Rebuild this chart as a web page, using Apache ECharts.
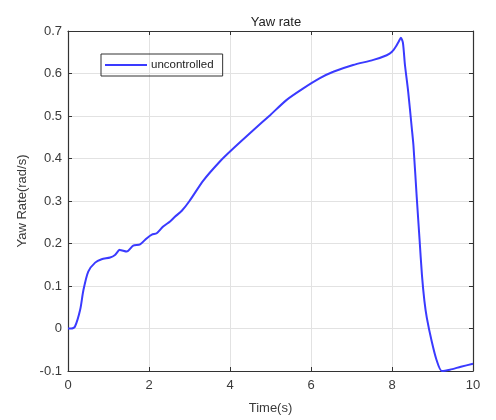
<!DOCTYPE html>
<html><head><meta charset="utf-8">
<script src="https://cdn.jsdelivr.net/npm/echarts@6/dist/echarts.min.js"></script>
<style>html,body{margin:0;padding:0;background:#fff}#c{width:496px;height:420px}</style>
</head><body><div id="c"></div>
<script>
const title = "Yaw rate";
const seriesName = "uncontrolled";
const xName = "Time(s)";
const yName = "Yaw Rate(rad/s)";
const time = [0, 0.08, 0.17, 0.3, 0.38, 0.5, 0.67, 0.83, 1.04, 1.16, 1.28, 1.45, 1.61, 1.78, 1.94, 2.07, 2.19, 2.35, 2.52, 2.64, 2.81, 3.0, 3.34, 3.75, 4.04, 4.58, 4.99, 5.4, 5.81, 6.22, 6.55, 7.04, 7.54, 7.87, 8.0, 8.1, 8.17, 8.22, 8.27, 8.32, 8.40, 8.49, 8.53, 8.61, 8.68, 8.74, 8.80, 8.86, 8.98, 9.10, 9.23, 9.43, 9.70, 10];
const yawRate = [0, 0.0, 0.004, 0.044, 0.09, 0.134, 0.155, 0.163, 0.167, 0.173, 0.185, 0.181, 0.195, 0.198, 0.212, 0.221, 0.224, 0.24, 0.252, 0.263, 0.277, 0.300, 0.348, 0.393, 0.42, 0.467, 0.502, 0.538, 0.565, 0.589, 0.604, 0.62, 0.632, 0.643, 0.651, 0.664, 0.676, 0.684, 0.672, 0.62, 0.557, 0.47, 0.43, 0.31, 0.21, 0.125, 0.065, 0.025, -0.03, -0.074, -0.1, -0.097, -0.09, -0.083];

const chart = echarts.init(document.getElementById('c'));
const font = 'Liberation Sans, Arial, sans-serif';
const txt = '#3a3a3a';
const frameAxis = {
  axisLine: {show: true, onZero: false, lineStyle: {color: '#333', width: 1.2}},
  axisTick: {show: true, inside: true, length: 4, lineStyle: {color: '#333'}},
  axisLabel: {show: false}, splitLine: {show: false}
};
chart.setOption({
  animation: false,
  title: {text: title, left: 271, top: 11, textAlign: 'center',
    textStyle: {fontFamily: font, fontSize: 13, fontWeight: 'normal', color: '#222'}},
  legend: {data: [seriesName], left: 101, top: 54, orient: 'vertical',
    borderColor: '#333', borderWidth: 1, padding: [5, 9, 5, 4], itemWidth: 42, itemHeight: 2, itemGap: 4,
    icon: 'rect',
    textStyle: {fontFamily: font, fontSize: 11.5, color: '#222', padding: [0, 0, 0, -1]}},
  grid: {left: 68, right: 23, top: 31, bottom: 49, containLabel: false},
  xAxis: [
    {type: 'value', min: 0, max: 10, interval: 2, name: xName,
      nameLocation: 'middle', nameGap: 31,
      nameTextStyle: {fontFamily: font, fontSize: 13, color: txt},
      axisLine: {show: true, onZero: false, lineStyle: {color: '#333', width: 1.2}},
      axisTick: {show: true, inside: true, length: 4, lineStyle: {color: '#333'}},
      splitLine: {show: true, lineStyle: {color: '#e2e2e2', width: 1}},
      axisLabel: {color: txt, fontFamily: font, fontSize: 13, margin: 8}},
    Object.assign({type: 'value', min: 0, max: 10, interval: 2, position: 'top'}, frameAxis)
  ],
  yAxis: [
    {type: 'value', min: -0.1, max: 0.7, interval: 0.1, name: yName,
      nameLocation: 'middle', nameGap: 29,
      nameTextStyle: {fontFamily: font, fontSize: 13, color: txt},
      axisLine: {show: true, onZero: false, lineStyle: {color: '#333', width: 1.2}},
      axisTick: {show: true, inside: true, length: 4, lineStyle: {color: '#333'}},
      splitLine: {show: true, lineStyle: {color: '#e2e2e2', width: 1}},
      axisLabel: {color: txt, fontFamily: font, fontSize: 13, margin: 6,
        formatter: v => String(Math.round(v * 10) / 10)}},
    Object.assign({type: 'value', min: -0.1, max: 0.7, interval: 0.1, position: 'right'}, frameAxis)
  ],
  series: [{
    name: seriesName, type: 'line', xAxisIndex: 0, yAxisIndex: 0,
    data: time.map((t, i) => [t, yawRate[i]]),
    showSymbol: false, smooth: 0.25,
    lineStyle: {color: '#3a3aff', width: 2}, itemStyle: {color: '#3a3aff'}
  }]
});
</script></body></html>
